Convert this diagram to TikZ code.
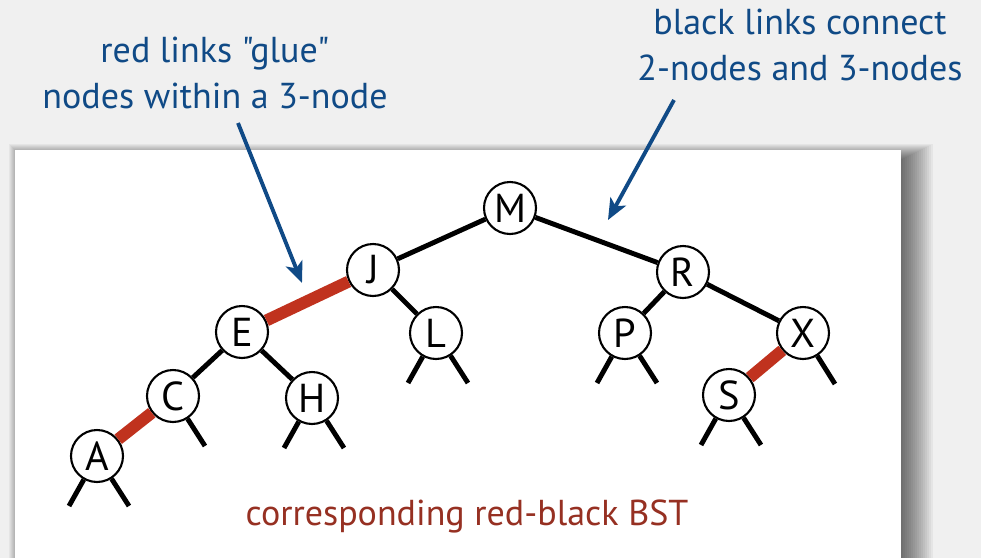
\documentclass[tikz,border=0pt]{standalone}
\usepackage{fontspec}
\setmainfont{PT Sans}[Ligatures=TeXOff]
\usetikzlibrary{arrows.meta}
\definecolor{noteblue}{RGB}{16,74,134}
\definecolor{redlink}{RGB}{192,50,30}
\definecolor{captionred}{RGB}{150,48,34}
\definecolor{pagegray}{RGB}{240,240,240}
\tikzset{
    key/.style={circle, draw, fill=white, line width=1.2pt, minimum size=1.04cm,
    	inner sep=0pt, font=\fontsize{23}{23}\selectfont}
}
\tikzset{
    black link/.style={line width=2.8pt},
    red link/.style={line width=6.8pt, draw=redlink}
}
\tikzset{
	note/.style={text=noteblue, align=center, font=\fontsize{20.5}{26.5}\selectfont},
	note arrow/.style={draw=noteblue, line width=2.2pt,
		-{Stealth[length=12pt,width=10pt,inset=3pt]}}
}

\begin{document}
\begin{tikzpicture}[x=0.02cm, y=-0.02cm]
  \useasboundingbox (0,0) rectangle (981,558);
  \fill[pagegray] (0,0) rectangle (981,558);
  % panel with its shadow
  \foreach \i in {1,...,16}
    \fill[black, opacity=0.045] (25-\i, 160-\i) rectangle (901+2*\i, 558);
  \fill[white] (15,150) rectangle (901,558);

  \node (M) [key] at (510, 208) {M};
  \node (J) [key] at (373, 270) {J};
  \node (R) [key] at (683, 272) {R};
  \node (E) [key] at (242, 332) {E};
  \node (L) [key] at (436, 333) {L};
  \node (P) [key] at (625, 333) {P};
  \node (X) [key] at (803, 333) {X};
  \node (C) [key] at (173, 396) {C};
  \node (H) [key] at (312, 398) {H};
  \node (S) [key] at (729, 395) {S};
  \node (A) [key] at (97, 456) {A};

  % null links
  \foreach \n in {A,H,L,P,S} {
    \coordinate (\n-l) at ([shift={(-28,50)}]\n);
    \coordinate (\n-r) at ([shift={(32,50)}]\n);
  }
  \coordinate (C-r) at ([shift={(32,50)}]C);
  \coordinate (X-r) at ([shift={(32,51)}]X);

  \draw[black link] (M) edge (J); \draw[black link] (M) edge (R);
  \draw[black link] (J) edge (L); \draw[black link] (R) edge (P);
  \draw[black link] (R) edge (X); \draw[black link] (E) edge (C);
  \draw[black link] (E) edge (H);
  \draw[red link] (J) edge (E); \draw[red link] (C) edge (A);
  \draw[red link] (X) edge (S);
  \foreach \n in {A,H,L,P,S} {
    \draw[black link] (\n) edge (\n-l); \draw[black link] (\n) edge (\n-r);
  }
  \draw[black link] (C) edge (C-r); \draw[black link] (X) edge (X-r);

  \node (glue) [note] at (215, 73) {red links "glue"\\nodes within a 3-node};
  \node (connect) [note] at (800, 45) {black links connect\\2-nodes and 3-nodes};
  \node (caption) [text=captionred, font=\fontsize{20.5}{24}\selectfont]
    at (467, 516) {corresponding red-black BST};

  \coordinate (glue-s) at (238, 123);
  \coordinate (glue-t) at (302, 283);
  \coordinate (connect-s) at (674, 100);
  \coordinate (connect-t) at (608, 220);
  \draw[note arrow] (glue-s) -- (glue-t);
  \draw[note arrow] (connect-s) -- (connect-t);
\end{tikzpicture}
\end{document}
